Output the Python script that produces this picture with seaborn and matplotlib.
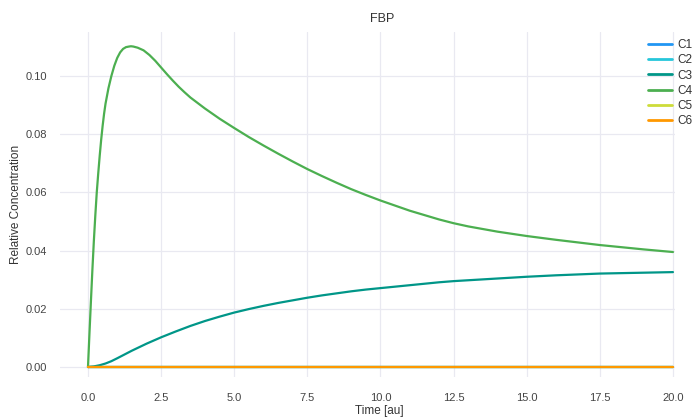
import matplotlib
matplotlib.use("Agg")
import matplotlib.pyplot as plt
import seaborn as sns
import pandas as pd

# ---- data ----
t_zero = [0.0, 5.0, 10.0, 15.0, 20.0]
c1 = [0.0, 0.0, 0.0, 0.0, 0.0]
c2 = [0.0, 0.0, 0.0, 0.0, 0.0]
c5 = [0.0, 0.0, 0.0, 0.0, 0.0]
c6 = [0.0, 0.0, 0.0, 0.0, 0.0]

t_c3 = [0, 0.2, 0.4, 0.6, 0.8, 1.0, 1.25, 1.5, 1.75, 2.0, 2.5, 3.0, 3.5, 4.0, 4.5,
        5, 5.5, 6, 6.5, 7, 7.5, 8, 8.5, 9, 9.5, 10, 11, 12, 12.5, 13, 14, 15,
        16, 17, 17.5, 18, 19, 20]
c3 = [0, 0.0002, 0.0006, 0.0012, 0.0020, 0.0030, 0.0043, 0.0056, 0.0068, 0.0080,
      0.0102, 0.0122, 0.0141, 0.0158, 0.0173, 0.0187, 0.0199, 0.0210, 0.0220,
      0.0229, 0.0238, 0.0246, 0.0253, 0.0260, 0.0266, 0.0271, 0.0281, 0.0291,
      0.0295, 0.0298, 0.0304, 0.0310, 0.0315, 0.0319, 0.0321, 0.0322, 0.0324,
      0.0326]

t_c4 = [0, 0.05, 0.1, 0.15, 0.2, 0.25, 0.3, 0.35, 0.4, 0.45, 0.5, 0.55, 0.6, 0.7,
        0.8, 0.9, 1.0, 1.1, 1.2, 1.3, 1.4, 1.47, 1.55, 1.7, 1.9, 2.1, 2.3, 2.5,
        2.7, 2.9, 3.1, 3.3, 3.5, 4.0, 4.5, 5.0, 5.5, 6, 6.5, 7, 7.5, 8, 8.5, 9,
        9.5, 10, 11, 12, 12.5, 13, 14, 15, 16, 17, 17.5, 18, 19, 20]
c4 = [0, 0.0115, 0.0225, 0.0333, 0.0432, 0.0520, 0.0600, 0.0665, 0.0725, 0.0780,
      0.0828, 0.0870, 0.0905, 0.0958, 0.1000, 0.1035, 0.1062, 0.1081, 0.1093,
      0.1099, 0.1101, 0.1102, 0.1101, 0.1097, 0.1088, 0.1072, 0.1052, 0.1029,
      0.1006, 0.0984, 0.0963, 0.0944, 0.0926, 0.0888, 0.0853, 0.0821, 0.0790,
      0.0761, 0.0733, 0.0706, 0.0680, 0.0656, 0.0633, 0.0611, 0.0591, 0.0572,
      0.0537, 0.0507, 0.0494, 0.0483, 0.0465, 0.0450, 0.0437, 0.0425, 0.0419,
      0.0414, 0.0404, 0.0395]

names = ["C1", "C2", "C3", "C4", "C5", "C6"]
colors = ["#2196F3", "#26C6DA", "#009688", "#4CAF50", "#CDDC39", "#FF9800"]
y_ticks = [0.00, 0.02, 0.04, 0.06, 0.08, 0.10]
x_ticks = [0.0, 2.5, 5.0, 7.5, 10.0, 12.5, 15.0, 17.5, 20.0]

series = {
    "C1": (t_zero, c1), "C2": (t_zero, c2), "C3": (t_c3, c3),
    "C4": (t_c4, c4), "C5": (t_zero, c5), "C6": (t_zero, c6),
}
frames = []
for n in names:
    tt, vv = series[n]
    frames.append(pd.DataFrame({"Time": tt, "Conc": vv, "Species": n}))
df = pd.concat(frames, ignore_index=True)

sns.set_theme(style="white")
plt.rcParams["font.family"] = ["Liberation Sans", "DejaVu Sans"]

fig = plt.figure(figsize=(6.96, 4.17), dpi=100)
ax = fig.add_axes([60 / 696, 1 - 377 / 417, 615 / 696, (377 - 31.7) / 417])

sns.lineplot(data=df, x="Time", y="Conc", hue="Species", hue_order=names,
             palette=colors, linewidth=1.6, ax=ax, estimator=None)

ax.set_xlim(-0.957, 20.07)
ax.set_ylim(-0.00344, 0.1152)
ax.set_xticks(x_ticks)
ax.set_yticks(y_ticks)
ax.set_yticklabels([f"{v:.2f}" for v in y_ticks])
ax.set_xticklabels([f"{v:.1f}" for v in x_ticks])

ax.grid(True, color="#e9e9f1", linewidth=0.9)
ax.set_axisbelow(True)
for s in ax.spines.values():
    s.set_visible(False)
ax.spines["left"].set_position(("outward", 2))
ax.spines["bottom"].set_position(("outward", 5))
ax.tick_params(axis="both", direction="out", length=3.5, width=1,
               color="#444444", labelcolor="#444444", labelsize=8)
ax.tick_params(axis="x", pad=3)
ax.tick_params(axis="y", pad=4)

ax.set_title("FBP", fontsize=9, color="#333333", x=0.524, pad=7)
ax.set_xlabel("Time [au]", fontsize=8.5, color="#333333", va="bottom")
ax.set_ylabel("Relative Concentration", fontsize=8.5, color="#333333")
ax.xaxis.set_label_coords(0.52, -0.1144)
ax.yaxis.set_label_coords(-0.062, 0.5)

leg = ax.legend(loc="upper left", bbox_to_anchor=(0.956, 0.979), frameon=False,
                fontsize=8.5, handlelength=2.0, handletextpad=0.5,
                labelspacing=0.28, borderaxespad=0, borderpad=0)
for line in leg.get_lines():
    line.set_linewidth(2.0)
for txt in leg.get_texts():
    txt.set_color("#333333")

fig.savefig("out.png", dpi=100)
